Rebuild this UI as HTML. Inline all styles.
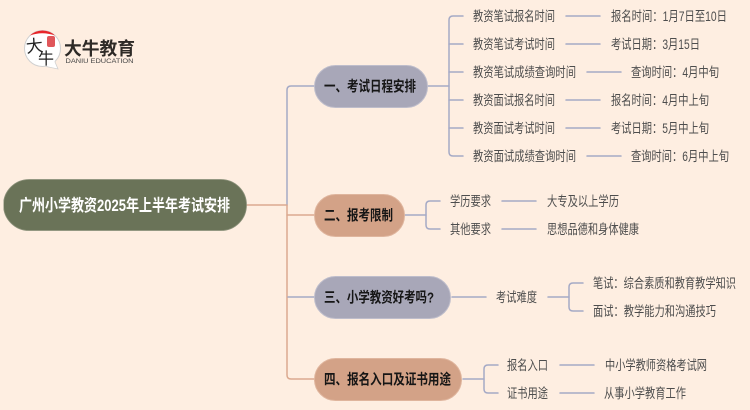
<!DOCTYPE html>
<html><head><meta charset="utf-8"><style>
html,body{margin:0;padding:0;background:#feeee1}
svg{display:block}
text{font-family:"Liberation Sans","Noto Sans CJK SC",sans-serif}
.l{font-size:13.5px;fill:#4e4e4e}
.h{font-size:14.5px;font-weight:700;fill:#141414}
</style></head><body>
<svg width="750" height="410" viewBox="0 0 750 410" xmlns="http://www.w3.org/2000/svg">
<defs><filter id="b" x="0" y="0" width="100%" height="100%"><feGaussianBlur stdDeviation="0.35"/></filter></defs>
<rect width="750" height="410" fill="#feeee1"/>
<g filter="url(#b)">
<g fill="none" stroke-width="1.5" stroke-linecap="round">
<path d="M246 205H287" stroke="#dba98f"/>
<path d="M287 205V90Q287 86 291 86H314" stroke="#a5aac6"/>
<path d="M287 205V375Q287 379 291 379H314" stroke="#dba98f"/>
<path d="M287 215H314" stroke="#dba98f"/>
<path d="M288 297H314" stroke="#a5aac6"/>
<g stroke="#a5aac6">
<path d="M428 86H449"/>
<path d="M463 16H453Q449 16 449 20V152Q449 156 453 156H463"/>
<path d="M449 44H463M449 72H463M449 100H463M449 128H463"/>
<path d="M566 16H600M566 44H600M587 72H621M566 100H600M566 128H600M587 156H621"/>
<path d="M405 215H426"/>
<path d="M440 201H430Q426 201 426 205V225Q426 229 430 229H440"/>
<path d="M502 201H536M502 229H536"/>
<path d="M452 297H486"/>
<path d="M548 297H569"/>
<path d="M583 283H573Q569 283 569 287V307Q569 311 573 311H583"/>
<path d="M463 379H484"/>
<path d="M498 365H488Q484 365 484 369V389Q484 393 488 393H498"/>
<path d="M560 365H594M560 393H594"/>
</g>
</g>
<rect x="3.500" y="179.500" width="243" height="51" rx="25.500" fill="#6b7359" stroke="#8b917a" stroke-width="0.800"/>
<text x="19" y="211" font-size="16.500" font-weight="700" fill="#fff" textLength="211" lengthAdjust="spacingAndGlyphs">广州小学教资2025年上半年考试安排</text>
<rect x="314.500" y="65.500" width="113" height="42" rx="21" fill="#a8a7b8" stroke="#bebdcb"/>
<rect x="314.500" y="194.500" width="90" height="42" rx="21" fill="#d3a287" stroke="#dfb59d"/>
<rect x="314.500" y="276.500" width="136" height="42" rx="21" fill="#a8a7b8" stroke="#bebdcb"/>
<rect x="314.500" y="358.500" width="147" height="42" rx="21" fill="#d3a287" stroke="#dfb59d"/>
<text class="h" x="324" y="91.500" textLength="92" lengthAdjust="spacingAndGlyphs">一、考试日程安排</text>
<text class="h" x="324" y="220.500" textLength="69" lengthAdjust="spacingAndGlyphs">二、报考限制</text>
<text class="h" x="324" y="302.500" textLength="110" lengthAdjust="spacingAndGlyphs">三、小学教资好考吗?</text>
<text class="h" x="324" y="384.500" textLength="127" lengthAdjust="spacingAndGlyphs">四、报名入口及证书用途</text>
<text class="l" x="473" y="21" textLength="82" lengthAdjust="spacingAndGlyphs">教资笔试报名时间</text>
<text class="l" x="473" y="49" textLength="82" lengthAdjust="spacingAndGlyphs">教资笔试考试时间</text>
<text class="l" x="473" y="77" textLength="103" lengthAdjust="spacingAndGlyphs">教资笔试成绩查询时间</text>
<text class="l" x="473" y="105" textLength="82" lengthAdjust="spacingAndGlyphs">教资面试报名时间</text>
<text class="l" x="473" y="133" textLength="82" lengthAdjust="spacingAndGlyphs">教资面试考试时间</text>
<text class="l" x="473" y="161" textLength="103" lengthAdjust="spacingAndGlyphs">教资面试成绩查询时间</text>
<text class="l" x="611" y="21" textLength="116" lengthAdjust="spacingAndGlyphs">报名时间&#xFF1A;1月7日至10日</text>
<text class="l" x="611" y="49" textLength="89" lengthAdjust="spacingAndGlyphs">考试日期&#xFF1A;3月15日</text>
<text class="l" x="631" y="77" textLength="88" lengthAdjust="spacingAndGlyphs">查询时间&#xFF1A;4月中旬</text>
<text class="l" x="611" y="105" textLength="98" lengthAdjust="spacingAndGlyphs">报名时间&#xFF1A;4月中上旬</text>
<text class="l" x="611" y="133" textLength="98" lengthAdjust="spacingAndGlyphs">考试日期&#xFF1A;5月中上旬</text>
<text class="l" x="631" y="161" textLength="98" lengthAdjust="spacingAndGlyphs">查询时间&#xFF1A;6月中上旬</text>
<text class="l" x="450" y="206" textLength="41" lengthAdjust="spacingAndGlyphs">学历要求</text>
<text class="l" x="450" y="234" textLength="41" lengthAdjust="spacingAndGlyphs">其他要求</text>
<text class="l" x="547" y="206" textLength="72" lengthAdjust="spacingAndGlyphs">大专及以上学历</text>
<text class="l" x="547" y="234" textLength="92" lengthAdjust="spacingAndGlyphs">思想品德和身体健康</text>
<text class="l" x="496" y="302" textLength="41" lengthAdjust="spacingAndGlyphs">考试难度</text>
<text class="l" x="593" y="288" textLength="143" lengthAdjust="spacingAndGlyphs">笔试&#xFF1A;综合素质和教育教学知识</text>
<text class="l" x="593" y="316" textLength="123" lengthAdjust="spacingAndGlyphs">面试&#xFF1A;教学能力和沟通技巧</text>
<text class="l" x="507" y="370" textLength="41" lengthAdjust="spacingAndGlyphs">报名入口</text>
<text class="l" x="507" y="398" textLength="41" lengthAdjust="spacingAndGlyphs">证书用途</text>
<text class="l" x="605" y="370" textLength="102" lengthAdjust="spacingAndGlyphs">中小学教师资格考试网</text>
<text class="l" x="604" y="398" textLength="82" lengthAdjust="spacingAndGlyphs">从事小学教育工作</text>
<circle cx="42.500" cy="48.500" r="18" fill="#fff" stroke="#d0d0d0"/>
<path d="M46 66L58 69L54 60Z" fill="#fff"/>
<path d="M46 66.500L58 69L55 62" fill="none" stroke="#d0d0d0" stroke-width="0.800"/>
<path d="M30 35.500A18 18 0 0 1 55 35.500Q42 31 30 35.500Z" fill="#e8262a"/>
<rect x="47" y="36" width="8" height="11" rx="2" fill="#e0575a"/>
<text x="26" y="52" font-size="17" fill="#222" transform="rotate(-6 34 46)">大</text>
<text x="38" y="64" font-size="16" fill="#222">牛</text>
<text x="64" y="55" font-size="18" font-weight="700" fill="#2e2a28" textLength="71" lengthAdjust="spacingAndGlyphs">大牛教育</text>
<text x="65.500" y="63" font-size="6.800" fill="#444" textLength="68" lengthAdjust="spacingAndGlyphs">DANIU EDUCATION</text>
</g>
</svg>
</body></html>
